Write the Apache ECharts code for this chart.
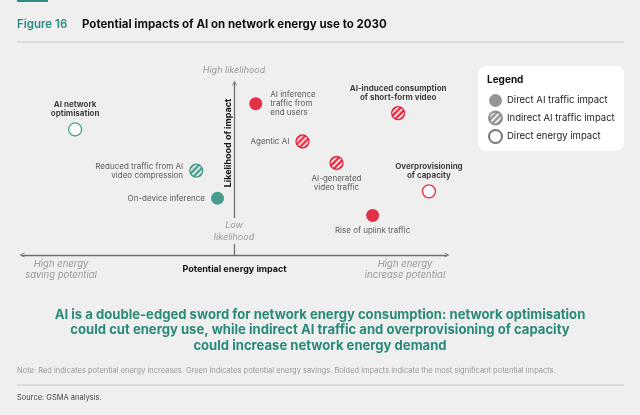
<!DOCTYPE html>
<html>
<head>
<meta charset="utf-8">
<script src="https://cdn.jsdelivr.net/npm/echarts@6/dist/echarts.min.js"></script>
<style>
  html, body { margin: 0; padding: 0; background: #efefef; }
  #main { width: 640px; height: 415px; }
</style>
</head>
<body>
<div id="main"></div>
<script>
// impacts shown on the chart (label text keeps its line breaks)
var impactNames = [
  'AI network\noptimisation',
  'AI inference\ntraffic from\nend users',
  'Agentic AI',
  'Reduced traffic from AI\nvideo compression',
  'On-device inference',
  'AI-generated\nvideo traffic',
  'AI-induced consumption\nof short-form video',
  'Overprovisioning\nof capacity',
  'Rise of uplink traffic'
];
// x: potential energy impact (-10 saving .. +10 increase)
var energyImpact = [-7.5, 1.0, 3.2, -1.8, -0.8, 4.8, 7.7, 9.15, 6.5];
// y: likelihood of impact (0 low .. 10 high)
var likelihood = [7.3, 8.8, 6.6, 4.9, 3.3, 5.35, 8.25, 3.7, 2.3];
var impactType = ['energy', 'direct', 'indirect', 'indirect', 'direct', 'indirect', 'indirect', 'energy', 'direct'];
var effect = ['saving', 'increase', 'increase', 'saving', 'saving', 'increase', 'increase', 'increase', 'increase'];
var significant = [true, false, false, false, false, false, true, true, false];

var typeOrder = ['direct', 'indirect', 'energy'];
var typeNames = {
  direct: 'Direct AI traffic impact',
  indirect: 'Indirect AI traffic impact',
  energy: 'Direct energy impact'
};

// where each label sits relative to its dot
var labelPos = ['top', 'right', 'left', 'left', 'left', 'bottom', 'top', 'top', 'bottom'];

var RED = '#e0001f';
var TEAL = '#1d8a76';
var GREY = '#7a7a7a';
var FONT = 'Inter';
var DOT = 13;

// diagonal white stripes; scale undoes the unit-size symbol scaling
function hatch(c, scale) {
  var s = 6;
  var cv = document.createElement('canvas');
  cv.width = s; cv.height = s;
  var ctx = cv.getContext('2d');
  ctx.fillStyle = c;
  ctx.fillRect(0, 0, s, s);
  ctx.strokeStyle = '#ffffff';
  ctx.lineWidth = 1.6;
  ctx.beginPath();
  ctx.moveTo(0, s); ctx.lineTo(s, 0);
  ctx.moveTo(-2, 2); ctx.lineTo(2, -2);
  ctx.moveTo(s - 2, s + 2); ctx.lineTo(s + 2, s - 2);
  ctx.stroke();
  return { image: cv, repeat: 'repeat', scaleX: scale, scaleY: scale };
}

function pointStyle(kind, c, ring, scale) {
  if (kind === 'direct') return { color: c, borderWidth: 0 };
  if (kind === 'indirect') return { color: hatch(c, scale), borderColor: c, borderWidth: 1.3 };
  return { color: '#ffffff', borderColor: ring || c, borderWidth: 1.3 };
}

var series = typeOrder.map(function (kind) {
  var pts = [];
  for (var i = 0; i < impactNames.length; i++) {
    if (impactType[i] !== kind) continue;
    var c = effect[i] === 'increase' ? RED : TEAL;
    pts.push({
      name: impactNames[i],
      value: [energyImpact[i], likelihood[i]],
      itemStyle: pointStyle(kind, c, null, 2 / DOT),
      label: {
        position: labelPos[i],
        distance: labelPos[i] === 'right' ? 8 : (labelPos[i] === 'left' ? 6 : 4),
        fontWeight: significant[i] ? 'bold' : 'normal',
        color: significant[i] ? '#111' : '#333'
      }
    });
  }
  return {
    name: typeNames[kind],
    type: 'scatter',
    symbol: 'circle',
    symbolSize: DOT,
    itemStyle: pointStyle(kind, GREY, '#555', 1),
    label: {
      show: true,
      formatter: '{b}',
      fontFamily: FONT,
      fontSize: 8,
      lineHeight: 9
    },
    emphasis: { disabled: true },
    data: pts
  };
});

var chevron = 'path://M0,10 L5,0 L10,10 L8.4,10 L5,3.2 L1.6,10 Z';
var grey = '#9a9a9a';

var option = {
  backgroundColor: '#efefef',
  animation: false,
  grid: { left: 22, right: 193, top: 83, bottom: 160 },
  xAxis: {
    type: 'value', min: -10, max: 10,
    name: 'Potential energy impact',
    nameLocation: 'middle', nameGap: 10,
    nameTextStyle: { fontFamily: FONT, fontWeight: 'bold', fontSize: 9, color: '#111' },
    axisLine: { onZero: false, lineStyle: { color: '#707070', width: 1.3 }, symbol: [chevron, chevron], symbolSize: [8, 5] },
    axisTick: { show: false }, axisLabel: { show: false }, splitLine: { show: false }
  },
  yAxis: {
    type: 'value', min: 0, max: 10,
    offset: -212.5,
    axisLine: { onZero: false, lineStyle: { color: '#707070', width: 1.3 }, symbol: ['none', chevron], symbolSize: [8, 5] },
    axisTick: { show: false }, axisLabel: { show: false }, splitLine: { show: false }
  },
  legend: {
    left: 488, top: 94, orient: 'vertical',
    itemWidth: 13, itemHeight: 13, itemGap: 3.5, padding: 0,
    textStyle: { fontFamily: FONT, fontSize: 9.5, color: '#222' },
    data: typeOrder.map(function (k) { return typeNames[k]; })
  },
  graphic: [
    { type: 'rect', shape: { x: 17, y: 0, width: 31, height: 2 }, style: { fill: '#2a8c82' } },
    { type: 'text', x: 17, y: 19, style: { text: 'Figure 16', fill: '#2a8c82', font: '600 11.5px Inter' } },
    { type: 'text', x: 82, y: 19, style: { text: 'Potential impacts of AI on network energy use to 2030', fill: '#111', font: 'bold 11.5px Inter' } },
    { type: 'line', shape: { x1: 17, y1: 42, x2: 624, y2: 42 }, style: { stroke: '#c8c8c8', lineWidth: 1 } },
    { type: 'rect', z: -1, shape: { x: 478, y: 66, width: 146, height: 85, r: 8 }, style: { fill: '#ffffff' } },
    { type: 'text', x: 487, y: 75, style: { text: 'Legend', fill: '#111', font: 'bold 10px Inter' } },
    { type: 'text', x: 234, y: 66, style: { text: 'High likelihood', fill: grey, font: 'italic 9px Inter', align: 'center' } },
    { type: 'text', x: 228, y: 143, rotation: Math.PI / 2, style: { text: 'Likelihood of impact', fill: '#111', font: 'bold 9px Inter', align: 'center', verticalAlign: 'middle' } },
    { type: 'text', x: 234, y: 218, z: 50, style: { text: 'Low\nlikelihood', fill: grey, font: 'italic 9px Inter', align: 'center', lineHeight: 12, backgroundColor: '#efefef', padding: [1, 1] } },
    { type: 'text', x: 61, y: 258, style: { text: 'High energy\nsaving potential', fill: grey, font: 'italic 9.5px Inter', align: 'center', lineHeight: 11.5 } },
    { type: 'text', x: 405, y: 258, style: { text: 'High energy\nincrease potential', fill: grey, font: 'italic 9.5px Inter', align: 'center', lineHeight: 11.5 } },
    { type: 'text', x: 320, y: 307, style: {
      text: 'AI is a double-edged sword for network energy consumption: network optimisation\ncould cut energy use, while indirect AI traffic and overprovisioning of capacity\ncould increase network energy demand',
      fill: '#2a8a78', font: 'bold 13.1px Inter', align: 'center', lineHeight: 15.5 } },
    { type: 'text', x: 17, y: 367, style: { text: 'Note: Red indicates potential energy increases. Green indicates potential energy savings. Bolded impacts indicate the most significant potential impacts.', fill: '#9a9a9a', font: '7.5px Inter' } },
    { type: 'line', shape: { x1: 17, y1: 385, x2: 624, y2: 385 }, style: { stroke: '#c8c8c8', lineWidth: 1 } },
    { type: 'text', x: 17, y: 394, style: { text: 'Source: GSMA analysis.', fill: '#444', font: '7.5px Inter' } }
  ],
  series: series
};

var chart = echarts.init(document.getElementById('main'));
chart.setOption(option);
</script>
</body>
</html>
